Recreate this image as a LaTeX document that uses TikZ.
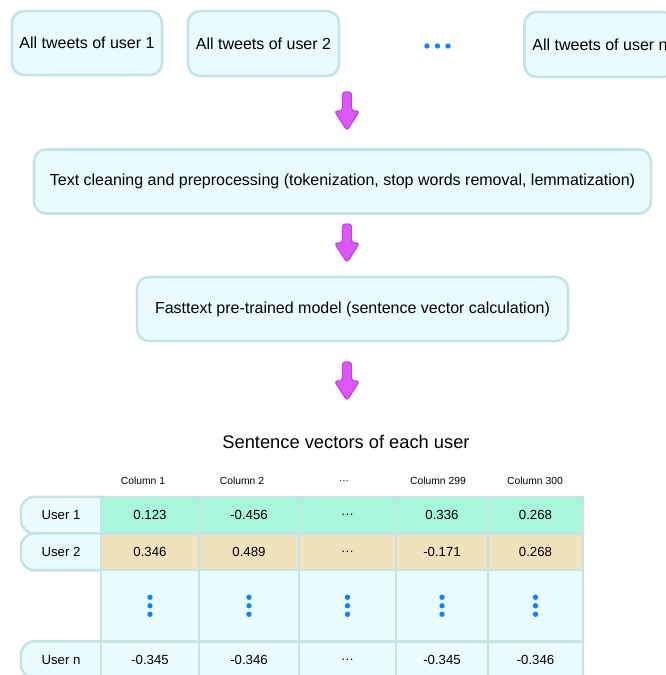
\documentclass[tikz,border=0pt]{standalone}
\usepackage{fontspec}
\setmainfont{Liberation Sans}
\usetikzlibrary{backgrounds}

\definecolor{boxfill}{HTML}{EAFBFD}
\definecolor{boxline}{HTML}{C4E3E7}
\definecolor{rowgreen}{HTML}{A9F7DA}
\definecolor{rowtan}{HTML}{F0E2BB}
\definecolor{dotblue}{HTML}{0A86F8}
\definecolor{arrowfill}{HTML}{DE57FA}
\definecolor{arrowline}{HTML}{C244DE}

\begin{document}
\begin{tikzpicture}[x=1pt,y=-1pt,
  stage/.style={draw=boxline, fill=boxfill, line width=2.6pt, rounded corners=12pt,
    inner sep=0pt, font=\fontsize{16}{18}\selectfont},
  cell/.style={draw=boxline, line width=2.4pt, inner sep=0pt, minimum height=#1,
    font=\fontsize{13.2}{15}\selectfont},
  lbl/.style={inner sep=0pt, minimum width=80pt, minimum height=36.5pt,
    font=\fontsize{13.2}{15}\selectfont},
  lblshape/.style={draw=boxline, fill=boxfill, line width=2.6pt, rounded corners=14pt},
  colhead/.style={inner sep=0pt, font=\fontsize{10.3}{12}\selectfont},
  dot/.style={circle, fill=dotblue, inner sep=0pt, minimum size=5.4pt},
  blockarrow/.style={draw=arrowline, fill=arrowfill, line width=1.3pt, rounded corners=3pt,
    line join=round}]

\useasboundingbox (0,0) rectangle (666,675);
\clip (0,0) rectangle (666,675);

% input boxes
\node[stage, minimum width=150pt, minimum height=64pt] (tw1) at (87,43) {All tweets of user 1};
\node[stage, minimum width=151pt, minimum height=65pt] (tw2) at (263.5,43.5) {All tweets of user 2};
\node[stage, minimum width=151pt, minimum height=65pt] (twn) at (600,44.5) {All tweets of user n};
\node[dot] (hd1) at (427,46) {};
\node[dot] (hd2) at (437.5,46) {};
\node[dot] (hd3) at (448,46) {};

% processing stages
\node[stage, minimum width=617pt, minimum height=64pt] (clean) at (342.5,181.5)
  {Text cleaning and preprocessing (tokenization, stop words removal, lemmatization)};
\node[stage, minimum width=431pt, minimum height=64pt] (fast) at (352.5,309)
  {Fasttext pre-trained model (sentence vector calculation)};

% block arrows between the stages
\coordinate (a1) at (347,92);
\coordinate (a2) at (347,224);
\coordinate (a3) at (347,362);
\foreach \a in {a1,a2,a3}
  \draw[blockarrow] (\a) ++(-4.5,0) -- ++(0,19) -- ++(-8,0) -- ++(12.5,19.5)
    -- ++(12.5,-19.5) -- ++(-8,0) -- ++(0,-19) -- cycle;

% table title and column headers
\node[font=\fontsize{18.3}{21}\selectfont] (title) at (346,442) {Sentence vectors of each user};
\node[colhead] (h1) at (143,481) {Column 1};
\node[colhead] (h2) at (242,481) {Column 2};
\node[colhead] (h3) at (344,481) {\dots};
\node[colhead] (h4) at (438,481) {Column 299};
\node[colhead] (h5) at (535,481) {Column 300};

% table body
\foreach \c/\xa/\xb/\va/\vb/\vn in {
    1/101/199/0.123/0.346/-0.345,
    2/199/299/-0.456/0.489/-0.346,
    3/299/396/\dots/\dots/\dots,
    4/396/488/0.336/-0.171/-0.345,
    5/488/583/0.268/0.268/-0.346} {
  \node[cell=36.5pt, fill=rowgreen, minimum width={\xb-\xa}] (r1c\c) at ({(\xa+\xb)/2},515.25) {\va};
  \node[cell=36.5pt, fill=rowtan, minimum width={\xb-\xa}] (r2c\c) at ({(\xa+\xb)/2},551.75) {\vb};
  \node[cell=71.5pt, fill=boxfill, minimum width={\xb-\xa}] (r3c\c) at ({(\xa+\xb)/2},605.75) {};
  \node[cell=36.5pt, fill=boxfill, minimum width={\xb-\xa}] (r4c\c) at ({(\xa+\xb)/2},659.75) {\vn};
  \node[dot] at ([yshift=-8.5pt]r3c\c.center) {};
  \node[dot] at (r3c\c.center) {};
  \node[dot] at ([yshift=8.5pt]r3c\c.center) {};
}

% row labels
\node[lbl] (u1) at (61,515.25) {User 1};
\node[lbl] (u2) at (61,551.75) {User 2};
\node[lbl] (un) at (61,659.75) {User n};
\begin{scope}[on background layer]
  \foreach \n in {u1,u2,un}
    \draw[lblshape] (\n.north west) rectangle ([xshift=16pt]\n.south east);
\end{scope}
\end{tikzpicture}
\end{document}
